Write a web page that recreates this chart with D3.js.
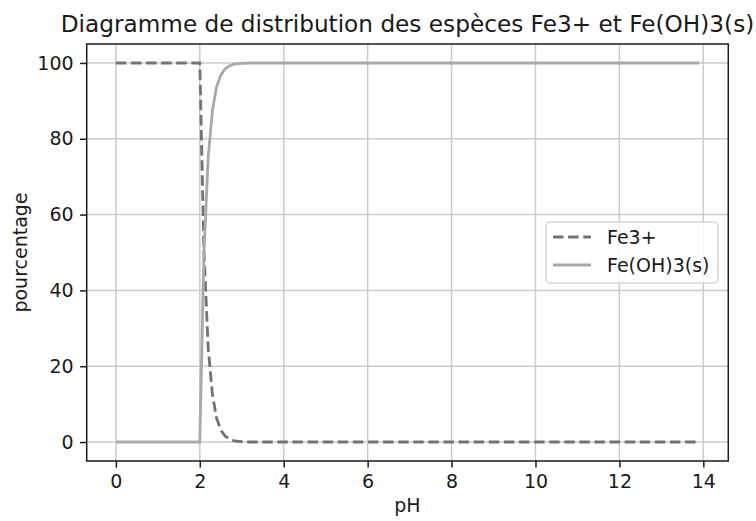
<!DOCTYPE html>
<html>
<head>
<meta charset="utf-8">
<script src="https://cdn.jsdelivr.net/npm/d3@7"></script>
<style>
  body { margin: 0; background: #fff; }
  svg text { font-family: "DejaVu Sans", sans-serif; fill: #1a1a1a; }
</style>
</head>
<body>
<svg id="chart"></svg>
<script>
const pHValues = [0, 2.0, 2.1, 2.2, 2.3, 2.4, 2.5, 2.6, 2.7, 2.8, 2.9, 3.0, 3.2, 13.9];

// Percentage of each species at those pH values
const fe3Values = [100, 100, 50, 25, 12.6, 6.3, 3.2, 1.6, 0.8, 0.4, 0.2, 0.1, 0, 0];
const feOH3Values = [0, 0, 50, 75, 87.4, 93.7, 96.8, 98.4, 99.2, 99.6, 99.8, 99.9, 100, 100];

// Tick labels for both axes
const xTicks = [0, 2, 4, 6, 8, 10, 12, 14];
const yTicks = [0, 20, 40, 60, 80, 100];

// Series names as shown in the legend
const seriesNames = ['Fe3+', 'Fe(OH)3(s)'];

const width = 756;
const height = 521;
const margin = { top: 44, right: 27.7, bottom: 60, left: 86.7 };

const svg = d3.select('#chart')
    .attr('width', width)
    .attr('height', height);

// Scales with the same 5% padding matplotlib adds around the data
const x = d3.scaleLinear()
    .domain([-0.695, 14.595])
    .range([margin.left, width - margin.right]);

const y = d3.scaleLinear()
    .domain([-5, 105])
    .range([height - margin.bottom, margin.top]);

// Grid lines
svg.append('g')
    .selectAll('line')
    .data(xTicks)
    .join('line')
    .attr('x1', d => x(d)).attr('x2', d => x(d))
    .attr('y1', margin.top).attr('y2', height - margin.bottom)
    .attr('stroke', '#cbcbcb')
    .attr('stroke-width', 1.5);

svg.append('g')
    .selectAll('line')
    .data(yTicks)
    .join('line')
    .attr('x1', margin.left).attr('x2', width - margin.right)
    .attr('y1', d => y(d)).attr('y2', d => y(d))
    .attr('stroke', '#cbcbcb')
    .attr('stroke-width', 1.5);

// Curves
const series = [
    { name: seriesNames[0], values: fe3Values, color: '#737373', dash: '10.5,4.6' },
    { name: seriesNames[1], values: feOH3Values, color: '#a9a9a9', dash: null }
];

const line = d3.line()
    .x((d, i) => x(pHValues[i]))
    .y(d => y(d));

svg.append('g')
    .selectAll('path')
    .data(series)
    .join('path')
    .attr('d', d => line(d.values))
    .attr('fill', 'none')
    .attr('stroke', d => d.color)
    .attr('stroke-width', 2.85)
    .attr('stroke-dasharray', d => d.dash);

// Axes
const xAxis = svg.append('g')
    .attr('transform', `translate(0,${height - margin.bottom})`)
    .call(d3.axisBottom(x).tickValues(xTicks).tickSize(6.6).tickPadding(6.5).tickSizeOuter(0));

const yAxis = svg.append('g')
    .attr('transform', `translate(${margin.left},0)`)
    .call(d3.axisLeft(y).tickValues(yTicks).tickSize(6.6).tickPadding(6.5).tickSizeOuter(0));

[xAxis, yAxis].forEach(ax => {
    ax.select('.domain').remove();
    ax.selectAll('.tick line').attr('stroke', '#1a1a1a').attr('stroke-width', 1.5);
    ax.selectAll('.tick text').attr('font-size', 19).attr('font-family', '"DejaVu Sans", sans-serif');
});

// Frame around the plot
svg.append('rect')
    .attr('x', margin.left)
    .attr('y', margin.top)
    .attr('width', width - margin.left - margin.right)
    .attr('height', height - margin.top - margin.bottom)
    .attr('fill', 'none')
    .attr('stroke', '#1a1a1a')
    .attr('stroke-width', 1.5);

// Title and axis labels
svg.append('text')
    .attr('x', (margin.left + width - margin.right) / 2)
    .attr('y', 32)
    .attr('text-anchor', 'middle')
    .attr('font-size', 23.2)
    .text('Diagramme de distribution des espèces Fe3+ et Fe(OH)3(s)');

svg.append('text')
    .attr('x', (margin.left + width - margin.right) / 2)
    .attr('y', 512)
    .attr('text-anchor', 'middle')
    .attr('font-size', 19)
    .text('pH');

svg.append('text')
    .attr('transform', `translate(27,${(margin.top + height - margin.bottom) / 2}) rotate(-90)`)
    .attr('text-anchor', 'middle')
    .attr('font-size', 19)
    .text('pourcentage');

// Legend
const legend = svg.append('g')
    .attr('transform', 'translate(546,222)');

legend.append('rect')
    .attr('width', 172)
    .attr('height', 61)
    .attr('rx', 4)
    .attr('fill', '#fff')
    .attr('fill-opacity', 0.8)
    .attr('stroke', '#d6d6d6')
    .attr('stroke-width', 1.5);

const entries = legend.selectAll('.entry')
    .data(series)
    .join('g')
    .attr('class', 'entry')
    .attr('transform', (d, i) => `translate(0,${15 + i * 28})`);

entries.append('line')
    .attr('x1', 7).attr('x2', 45)
    .attr('stroke', d => d.color)
    .attr('stroke-width', 2.85)
    .attr('stroke-dasharray', d => d.dash);

entries.append('text')
    .attr('x', 61)
    .attr('dy', '0.35em')
    .attr('font-size', 19)
    .text(d => d.name);
</script>
</body>
</html>
